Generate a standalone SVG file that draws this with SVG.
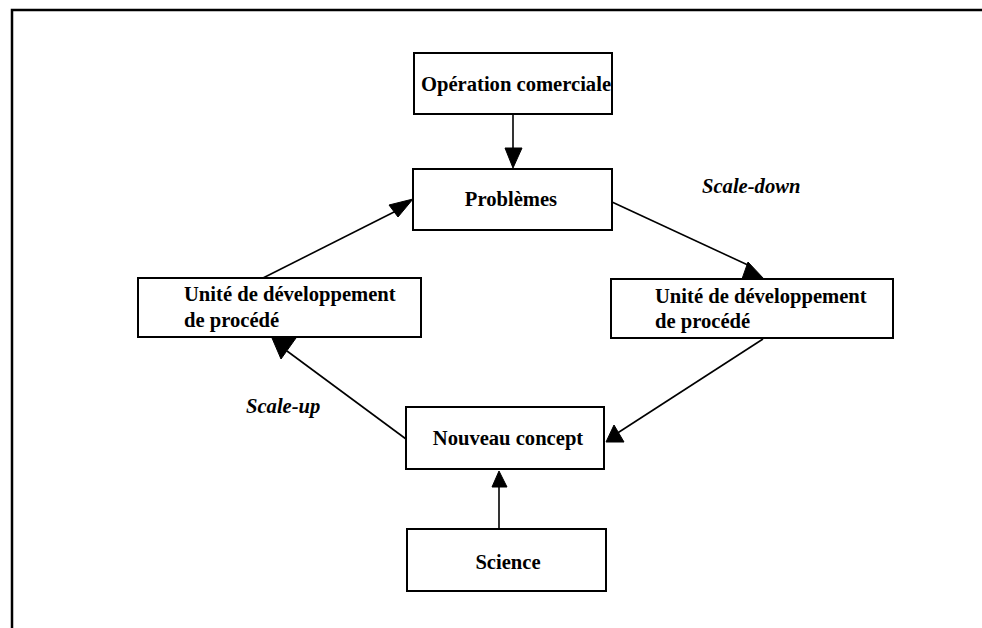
<svg xmlns="http://www.w3.org/2000/svg" width="982" height="628" viewBox="0 0 982 628">
<style>
.box{fill:#fff;stroke:#000;stroke-width:2}
.lbl{font-family:"Liberation Serif","Times New Roman",serif;font-weight:bold;font-size:20.6px;fill:#000}
.it{font-style:italic}
.ln{stroke:#000;stroke-width:1.6;fill:none}
.ah{fill:#000;stroke:#000;stroke-width:1}
.frame{stroke:#000;stroke-width:2.5;fill:none}
</style>
<rect width="982" height="628" fill="#fff"/>
<path class="frame" d="M12,628 V10 H982"/>
<g id="connectors">
<line class="ln" x1="513" y1="114" x2="513" y2="150"/>
<polygon class="ah" points="505,148 522,148 513,168"/>
<line class="ln" x1="612" y1="202" x2="750" y2="266"/>
<polygon class="ah" points="748,262 742,279 764,279"/>
<line class="ln" x1="763" y1="339" x2="616" y2="434"/>
<polygon class="ah" points="614,425 606,442 624,442"/>
<line class="ln" x1="406" y1="439" x2="287" y2="351"/>
<polygon class="ah" points="272,338 296,338 281,359"/>
<line class="ln" x1="263" y1="278" x2="398" y2="210"/>
<polygon class="ah" points="389,205 398,217 413,199"/>
<line class="ln" x1="499" y1="529" x2="499" y2="487"/>
<polygon class="ah" points="492,487 507,487 499,471"/>
</g>
<g id="operation">
<rect class="box" x="414" y="53" width="198" height="61"/>
<text class="lbl" x="516" y="91" text-anchor="middle">Opération comerciale</text>
</g>
<g id="problemes">
<rect class="box" x="413" y="169" width="199" height="61"/>
<text class="lbl" x="511" y="206" text-anchor="middle">Problèmes</text>
</g>
<g id="unite-left">
<rect class="box" x="138" y="278" width="283" height="59"/>
<text class="lbl" x="184" y="301">Unité de développement</text>
<text class="lbl" x="184" y="327">de procédé</text>
</g>
<g id="unite-right">
<rect class="box" x="611" y="279" width="282" height="59"/>
<text class="lbl" x="655" y="303">Unité de développement</text>
<text class="lbl" x="655" y="328">de procédé</text>
</g>
<g id="nouveau">
<rect class="box" x="406" y="407" width="198" height="62"/>
<text class="lbl" x="508" y="445" text-anchor="middle">Nouveau concept</text>
</g>
<g id="science">
<rect class="box" x="407" y="529" width="199" height="62"/>
<text class="lbl" x="508" y="569" text-anchor="middle">Science</text>
</g>
<g id="labels">
<text class="lbl it" x="702" y="193">Scale-down</text>
<text class="lbl it" x="246" y="413">Scale-up</text>
</g>
</svg>
